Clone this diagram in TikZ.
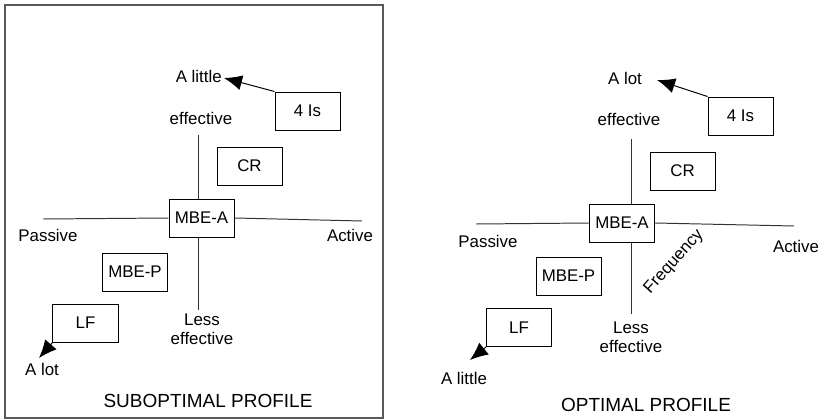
\documentclass[tikz,border=0pt]{standalone}
\usepackage{fontspec}
\setmainfont{Liberation Sans}
\usetikzlibrary{arrows.meta}
\tikzset{
  box/.style={draw,line width=0.7pt,minimum width=1.625cm,minimum height=0.95cm,inner sep=0pt,font=\fontsize{12}{14}\selectfont},
  axis/.style={line width=0.7pt,black!80},
  arr/.style={line width=0.7pt,-{Latex[length=4.5mm,width=3.8mm]}},
  lbl/.style={font=\fontsize{12}{13.5}\selectfont,inner sep=0pt,align=center},
  title/.style={font=\fontsize{13.5}{16}\selectfont,inner sep=0pt}
}

\begin{document}
\begin{tikzpicture}[x=0.025cm,y=-0.025cm]
\useasboundingbox (0,0) rectangle (823,420);
\draw[line width=0.8pt,black!65] (5,5) rectangle (383,418);
% suboptimal profile
\node[box] (sA) at (201.5,218) {MBE-A};
\node[box] (sCR) at (249.5,166) {CR};
\node[box] (sIs) at (307.5,111) {4 Is};
\node[box] (sP) at (135,272) {MBE-P};
\node[box] (sLF) at (85.5,323) {LF};
\coordinate (sL) at (43,219); \coordinate (sR) at (362,221);
\coordinate (sT) at (198,135); \coordinate (sB) at (198,310);
\draw[axis] (sL) -- (sA.west); \draw[axis] (sA.east) -- (sR);
\draw[axis] (sT) -- (sT|-sA.north); \draw[axis] (sB|-sA.south) -- (sB);
\node[lbl] (sEff) at (201,118) {effective};
\node[lbl] (sLess) at (202,329.5) {Less\\effective};
\node[lbl] (sPas) at (48,235) {Passive};
\node[lbl] (sAct) at (350,235) {Active};
\node[lbl,anchor=east] (sLittle) at (222,76) {A little};
\node[lbl] (sLot) at (42,369) {A lot};
\coordinate (sTip1) at (224,78); \coordinate (sTip2) at (39,358);
\draw[arr] (sIs.north west) -- (sTip1);
\draw[arr] (sLF.south west) -- (sTip2);
\node[title] (sub) at (208,401) {SUBOPTIMAL PROFILE};
% optimal profile
\node[box] (oA) at (622,223) {MBE-A};
\node[box] (oCR) at (682.5,171) {CR};
\node[box] (oIs) at (740.5,116) {4 Is};
\node[box] (oP) at (568.5,276) {MBE-P};
\node[box] (oLF) at (519,327.5) {LF};
\coordinate (oL) at (476,224); \coordinate (oR) at (794,226);
\coordinate (oT) at (631,139); \coordinate (oB) at (631,314);
\draw[axis] (oL) -- (oA.west); \draw[axis] (oA.east) -- (oR);
\draw[axis] (oT) -- (oT|-oA.north); \draw[axis] (oB|-oA.south) -- (oB);
\node[lbl] (oEff) at (629,119) {effective};
\node[lbl] (oLess) at (631,337.5) {Less\\effective};
\node[lbl] (oPas) at (488,241) {Passive};
\node[lbl] (oAct) at (796,246) {Active};
\node[lbl,rotate=48] (oFreq) at (674,262) {Frequency};
\node[lbl] (oLot) at (625,78) {A lot};
\node[lbl] (oLittle) at (464,378) {A little};
\coordinate (oTip1) at (657,80); \coordinate (oTip2) at (470,360);
\draw[arr] (oIs.north west) -- (oTip1);
\draw[arr] (oLF.south west) -- (oTip2);
\node[title] (opt) at (646,405) {OPTIMAL PROFILE};
\end{tikzpicture}
\end{document}
